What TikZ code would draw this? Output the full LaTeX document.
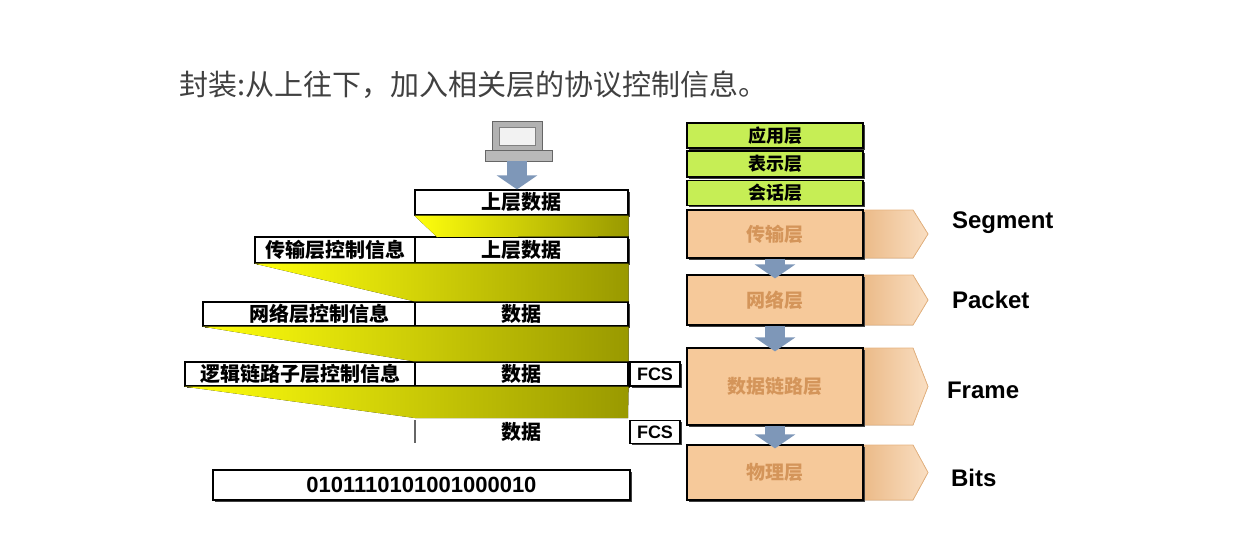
\documentclass[tikz,border=0pt]{standalone}
\usepackage{fontspec}
\setmainfont{Liberation Sans}
\newfontfamily\cjk{Noto Sans CJK SC}
\usetikzlibrary{arrows.meta, shadows}
\definecolor{peach}{HTML}{F6C99A}
\definecolor{peachtxt}{HTML}{D4955A}
\definecolor{lime}{HTML}{C6EE55}
\definecolor{steel}{HTML}{7E97B8}
\tikzstyle{box} = [rectangle, draw=black, line width=0.6pt, fill=white, inner sep=0pt, font=\cjk\bfseries\fontsize{10}{11}\selectfont, drop shadow={shadow xshift=0.8pt, shadow yshift=-0.8pt, fill=black!75, opacity=1}]
\tikzstyle{toplayer} = [box, fill=lime, minimum width=88pt, font=\cjk\bfseries\fontsize{9}{10}\selectfont]
\tikzstyle{layer} = [box, fill=peach, minimum width=88pt, text=peachtxt, font=\cjk\bfseries\fontsize{9.5}{11}\selectfont]
\tikzstyle{wedge} = [left color=yellow!95!white, right color=yellow!60!black]
\tikzstyle{tab} = [left color=peach!80!brown, right color=peach!60!white, draw=peach!70!brown, line width=0.4pt]
\tikzstyle{pdu} = [font=\bfseries\fontsize{12}{14}\selectfont, anchor=west]
\tikzstyle{bluearrow} = [draw=steel, line width=10pt, -{Triangle[width=20pt,length=7pt]}]

\begin{document}
\begin{tikzpicture}[x=0.5pt, y=-0.5pt]
\useasboundingbox (0,0) rectangle (1260,552);

% Title
\node (title) [anchor=west, text=black!75, font=\cjk\fontsize{14.5}{16}\selectfont] at (172,85) {封装:从上往下，加入相关层的协议控制信息。};

% Computer
\fill[gray!60, draw=gray!80!black] (492,121) rectangle (542,150);
\fill[white!90!gray, draw=gray] (499,127) rectangle (535,145);
\fill[gray!55, draw=gray!80!black] (485,150) rectangle (552,161);
\coordinate (pc) at (517,161);

% Encapsulation rows
\node (d1) [box, minimum width=106.5pt, minimum height=12.5pt] at (521.5,202.5) {上层数据};
\node (c1) [box, minimum width=80pt, minimum height=13pt] at (335,250) {传输层控制信息};
\node (d2) [box, minimum width=106.5pt, minimum height=13pt] at (521.5,250) {上层数据};
\node (c2) [box, minimum width=106pt, minimum height=12pt] at (309,314) {\quad 网络层控制信息};
\node (d3) [box, minimum width=106.5pt, minimum height=12pt] at (521.5,314) {数据};
\node (c3) [box, minimum width=115pt, minimum height=12pt] at (300,374) {逻辑链路子层控制信息};
\node (d4) [box, minimum width=106.5pt, minimum height=12pt] at (521.5,374) {数据};
\node (f1) [box, minimum width=25pt, minimum height=12pt, font=\bfseries\fontsize{9}{10}\selectfont] at (655,374) {FCS};
\node (d5) [font=\cjk\bfseries\fontsize{10}{11}\selectfont] at (521.5,432) {数据};
\node (f2) [box, minimum width=25pt, minimum height=11.5pt, font=\bfseries\fontsize{9}{10}\selectfont] at (655,432) {FCS};
\node (bits) [box, minimum width=208.5pt, minimum height=15pt, font=\bfseries\fontsize{11}{12}\selectfont] at (421.5,485) {0101110101001000010};
\draw[gray!80!black, line width=0.6pt] (415,420) -- (415,443);

% Yellow wedges
\fill[wedge] (d1.south west) -- (d1.south east) -- (d2.north east) -- (437,237) -- cycle;
\fill[wedge] (c1.south west) -- (d2.south east) -- (d3.north east) -- (d3.north west) -- cycle;
\fill[wedge] (c2.south west) -- (d3.south east) -- (d4.north east) -- (d4.north west) -- cycle;
\fill[wedge] (c3.south west) -- (d4.south east) -- (628,418) -- (415,418) -- cycle;

% OSI stack
\node (app) [toplayer, minimum height=12.5pt] at (775,135.5) {应用层};
\node (pres) [toplayer, minimum height=13pt] at (775,164) {表示层};
\node (sess) [toplayer, minimum height=12.5pt] at (775,193) {会话层};
\foreach \n/\y/\h in {trans/234/24, net/300/25, dl/386.5/38.5, phy/472.5/27.5}
  \fill[tab] (863,\y-\h) -- (913,\y-\h) -- (928,\y) -- (913,\y+\h) -- (863,\y+\h) -- cycle;
\node (trans) [layer, minimum height=24pt] at (775,234) {传输层};
\node (net) [layer, minimum height=25pt] at (775,300) {网络层};
\node (dl) [layer, minimum height=38.5pt] at (775,386.5) {数据链路层};
\node (phy) [layer, minimum height=27.5pt] at (775,472.5) {物理层};

% PDU names
\node (seg) [pdu] at (945,223) {Segment};
\node (pkt) [pdu] at (945,300) {Packet};
\node (frm) [pdu] at (940,390) {Frame};
\node (bts) [pdu] at (944,478) {Bits};

% Arrows
\draw [bluearrow] (pc) -- (pc |- d1.north);
\draw [bluearrow] (trans.south) -- ([yshift=-2pt]net.north);
\draw [bluearrow] (net.south) -- ([yshift=-2pt]dl.north);
\draw [bluearrow] (dl.south) -- ([yshift=-2pt]phy.north);

\end{tikzpicture}
\end{document}
